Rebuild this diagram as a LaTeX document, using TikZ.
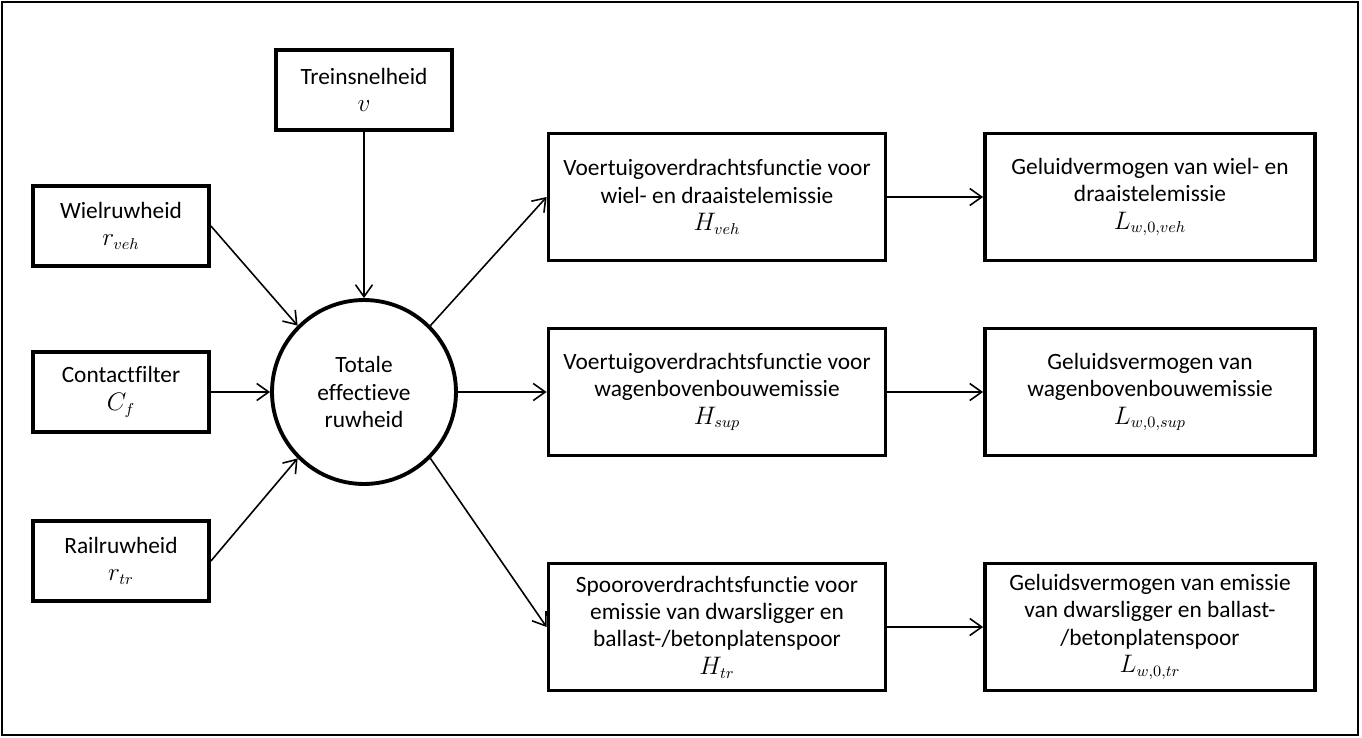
\documentclass[tikz,border=0pt]{standalone}
\usepackage{fontspec}
\setmainfont{Carlito}[Ligatures=NoCommon]
\usetikzlibrary{arrows.meta}

\begin{document}
\begin{tikzpicture}[x=0.02cm, y=-0.02cm,
    every node/.style={font=\fontsize{13.3}{15.6}\selectfont, align=center, inner sep=0pt},
    blok/.style={draw, line width=2.2pt, minimum width=3.52cm, minimum height=1.6cm},
    breed/.style={draw, line width=2.2pt, minimum width=6.74cm, minimum height=2.54cm},
    uitvoer/.style={draw, line width=2.2pt, minimum width=6.6cm, minimum height=2.54cm},
    pijl/.style={line width=0.9pt, -{Straight Barb[length=2.4mm,width=3.4mm]}}]
    \useasboundingbox (0,0) rectangle (1362,737);
    \draw[line width=1.2pt] (2,2) rectangle (1358,735);

    % invoer
    \node[blok] (trein) at (364,90) {Treinsnelheid\\$v$};
    \node[blok] (wiel) at (121,226) {Wielruwheid\\$r_{veh}$};
    \node[blok] (contact) at (121,392) {Contactfilter\\$C_f$};
    \node[blok] (rail) at (121,561) {Railruwheid\\$r_{tr}$};
    \node[draw, circle, line width=2.2pt, minimum size=3.68cm] (ruw) at (364,392) {Totale\\effectieve\\ruwheid};

    % overdrachtsfuncties
    \node[breed] (hveh) at (717,197) {Voertuigoverdrachtsfunctie voor\\wiel- en draaistelemissie\\$H_{veh}$};
    \node[breed] (hsup) at (717,392) {Voertuigoverdrachtsfunctie voor\\wagenbovenbouwemissie\\$H_{sup}$};
    \node[breed] (htr) at (717,627) {Spooroverdrachtsfunctie voor\\emissie van dwarsligger en\\ballast-/betonplatenspoor\\$H_{tr}$};

    % geluidvermogen
    \node[uitvoer] (lveh) at (1150,197) {Geluidvermogen van wiel- en\\draaistelemissie\\$L_{w,0,veh}$};
    \node[uitvoer] (lsup) at (1150,392) {Geluidsvermogen van\\wagenbovenbouwemissie\\$L_{w,0,sup}$};
    \node[uitvoer] (ltr) at (1150,627) {Geluidsvermogen van emissie\\van dwarsligger en ballast-\\/betonplatenspoor\\$L_{w,0,tr}$};

    \draw[pijl] (trein.south) -- (ruw.north);
    \draw[pijl] (wiel.east) -- (ruw.135);
    \draw[pijl] (contact.east) -- (ruw.west);
    \draw[pijl] (rail.east) -- (ruw.225);
    \draw[pijl] (ruw.45) -- (hveh.west);
    \draw[pijl] (ruw.east) -- (hsup.west);
    \draw[pijl] (ruw.-45) -- (htr.west);
    \draw[pijl] (hveh.east) -- (lveh.west);
    \draw[pijl] (hsup.east) -- (lsup.west);
    \draw[pijl] (htr.east) -- (ltr.west);
\end{tikzpicture}
\end{document}
